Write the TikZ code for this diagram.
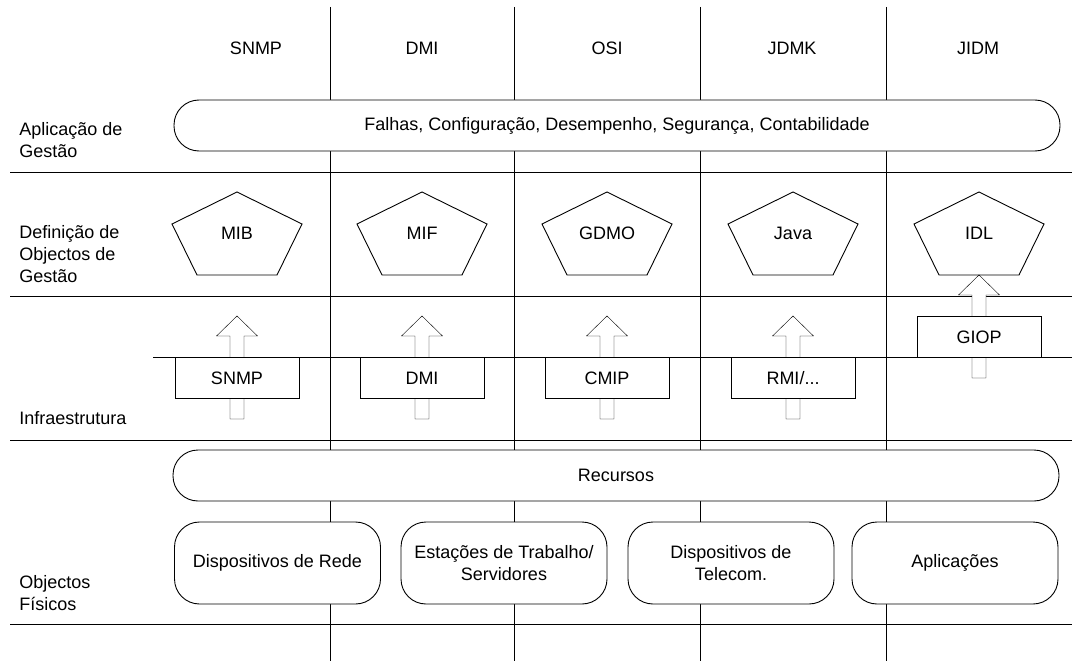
\documentclass[tikz,border=0pt]{standalone}
\usepackage{fontspec}
\setmainfont{Liberation Sans}
\usetikzlibrary{calc}
\usetikzlibrary{backgrounds}

\newcommand{\fatarrow}[1]{%
  \filldraw[fill=white]
    ($(#1.north)+(0,-41)$)
    -- ++(20.5,20)
    -- ++(-13.5,0)
    -- ++(0,83)
    -- ++(-14,0)
    -- ++(0,-83)
    -- ++(-13.5,0)
    -- cycle;}
\newcommand{\pentaround}[1]{%
  \draw
    ($(#1)+(0,-41)$)
    -- ($(#1)+(65,-9)$)
    -- ($(#1)+(40,42)$)
    -- ($(#1)+(-40,42)$)
    -- ($(#1)+(-65,-9)$)
    -- cycle;}

\begin{document}
\begin{tikzpicture}[x=1pt,y=-1pt,line width=0.9pt,
  font=\fontsize{18}{22}\selectfont,
  colhead/.style={inner sep=0pt},
  rowlabel/.style={anchor=west,align=left,inner sep=0pt},
  pill/.style={draw,fill=white,rounded corners=25pt,
    minimum width=886pt,minimum height=51pt,inner sep=0pt},
  physbox/.style={draw,fill=white,rounded corners=25pt,align=center,
    minimum width=206pt,minimum height=82pt,inner sep=0pt},
  protobox/.style={draw,fill=white,anchor=north,
    minimum width=124pt,minimum height=41pt,inner sep=0pt},
  objname/.style={inner sep=0pt}]
\useasboundingbox
  (0,0)
  rectangle
  (1072,661);
% column heads
  \node[colhead] (hsnmp) at (256,48) {SNMP};
  \node[colhead] (hdmi) at (422,48) {DMI};
  \node[colhead] (hosi) at (607,48) {OSI};
  \node[colhead] (hjdmk) at (792,48) {JDMK};
  \node[colhead] (hjidm) at (978,48) {JIDM};
% row labels
  \node[rowlabel] (laplic) at (19,140) {Aplicação de\\Gestão};
  \node[rowlabel] (ldef) at (19,254) {Definição de\\Objectos de\\Gestão};
  \node[rowlabel] (linfra) at (19,418) {Infraestrutura};
  \node[rowlabel] (lfis) at (19,593) {Objectos\\Físicos};
% management application
  \node[pill] (gestao) at (617,125.5)
    {Falhas, Configuração, Desempenho, Segurança, Contabilidade};
% object definitions
  \node[objname] (mib) at (237,233) {MIB};
  \node[objname] (mif) at (422,233) {MIF};
  \node[objname] (gdmo) at (607,233) {GDMO};
  \node[objname] (java) at (793,233) {Java};
  \node[objname] (idl) at (979,233) {IDL};
  \pentaround{mib}
  \pentaround{mif}
  \pentaround{gdmo}
  \pentaround{java}
  \pentaround{idl}
% infrastructure
  \node[protobox] (snmp) at (237,357) {SNMP};
  \node[protobox] (dmi) at (422,357) {DMI};
  \node[protobox] (cmip) at (607,357) {CMIP};
  \node[protobox] (rmi) at (793,357) {RMI/...};
  \node[protobox] (giop) at (979,316) {GIOP};
% resources
  \node[pill] (recursos) at (616,475.5) {Recursos};
  \node[physbox] (rede) at (277.5,563) {Dispositivos de Rede};
  \node[physbox] (estacoes) at (504,563) {Estações de Trabalho/\\Servidores};
  \node[physbox] (telecom) at (731,563) {Dispositivos de\\Telecom.};
  \node[physbox] (aplic) at (955,563) {Aplicações};
\begin{pgfonlayer}{background}
  \draw
    (10,172)
    -- (1072,172);
  \draw
    (10,296)
    -- (1072,296);
  \draw
    (153,357)
    -- (1072,357);
  \draw
    (10,440)
    -- (1072,440);
  \draw
    (10,624)
    -- (1072,624);
  \draw
    (330,7)
    -- (330,661);
  \draw
    (514,7)
    -- (514,661);
  \draw
    (700,7)
    -- (700,661);
  \draw
    (886,7)
    -- (886,661);
  \fatarrow{snmp}
  \fatarrow{dmi}
  \fatarrow{cmip}
  \fatarrow{rmi}
  \fatarrow{giop}
\end{pgfonlayer}
\end{tikzpicture}
\end{document}
